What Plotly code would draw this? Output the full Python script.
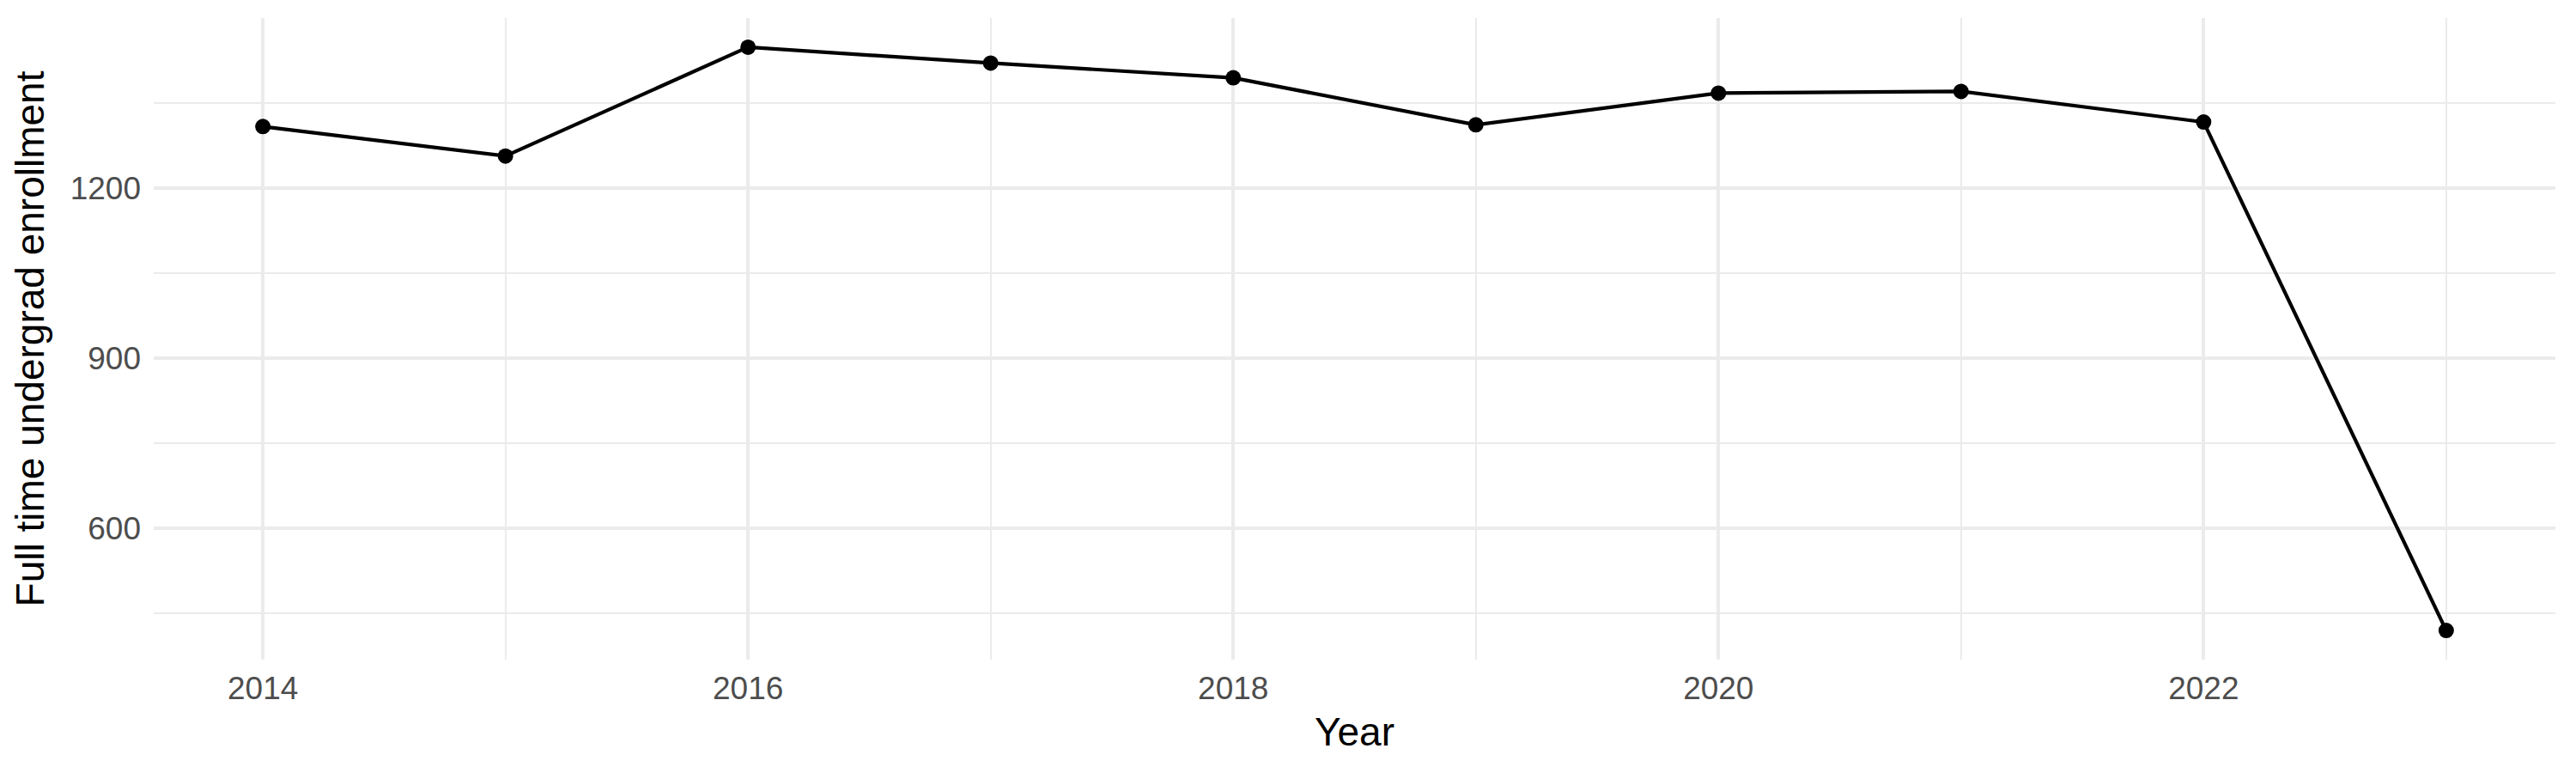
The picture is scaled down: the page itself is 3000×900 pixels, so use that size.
import plotly.graph_objects as go

years = [2014, 2015, 2016, 2017, 2018, 2019, 2020, 2021, 2022, 2023]
enrollment = [1309, 1257, 1449, 1421, 1395, 1312, 1368, 1371, 1317, 420]

x_ticks = [2014, 2016, 2018, 2020, 2022]
y_ticks = [600, 900, 1200]
y_minor = [450, 750, 1050, 1350]

grid = "#EBEBEB"
font = "Liberation Sans, Arial, sans-serif"

fig = go.Figure()
fig.add_trace(go.Scatter(
    x=years,
    y=enrollment,
    mode="lines+markers",
    line=dict(color="black", width=4.2),
    marker=dict(color="black", size=18),
    showlegend=False,
))

# ggplot-style 5% padding on both axes
span = max(enrollment) - min(enrollment)
fig.update_layout(
    width=3000,
    height=900,
    paper_bgcolor="white",
    plot_bgcolor="white",
    font=dict(family=font),
    margin=dict(l=171, r=32, t=13, b=140),
    xaxis=dict(
        title=dict(text="Year", font=dict(size=46, color="black"), standoff=14),
        range=[years[0] - 0.45, years[-1] + 0.45],
        tickvals=x_ticks,
        ticktext=[str(v) for v in x_ticks],
        tickfont=dict(size=37, color="#4D4D4D"),
        showgrid=True, gridcolor=grid, gridwidth=4,
        minor=dict(tickvals=years, showgrid=True, gridcolor=grid, gridwidth=2),
        zeroline=False, showline=False, ticks="",
        ticklabelstandoff=8,
    ),
    yaxis=dict(
        title=dict(text="Full time undergrad enrollment", font=dict(size=46, color="black"), standoff=15),
        range=[min(enrollment) - 0.05 * span, max(enrollment) + 0.05 * span],
        tickvals=y_ticks,
        ticktext=[str(v) for v in y_ticks],
        tickfont=dict(size=37, color="#4D4D4D"),
        showgrid=True, gridcolor=grid, gridwidth=4,
        minor=dict(tickvals=y_minor, showgrid=True, gridcolor=grid, gridwidth=2),
        zeroline=False, showline=False, ticks="",
        ticklabelstandoff=14,
    ),
)

fig.write_html("out.html")
